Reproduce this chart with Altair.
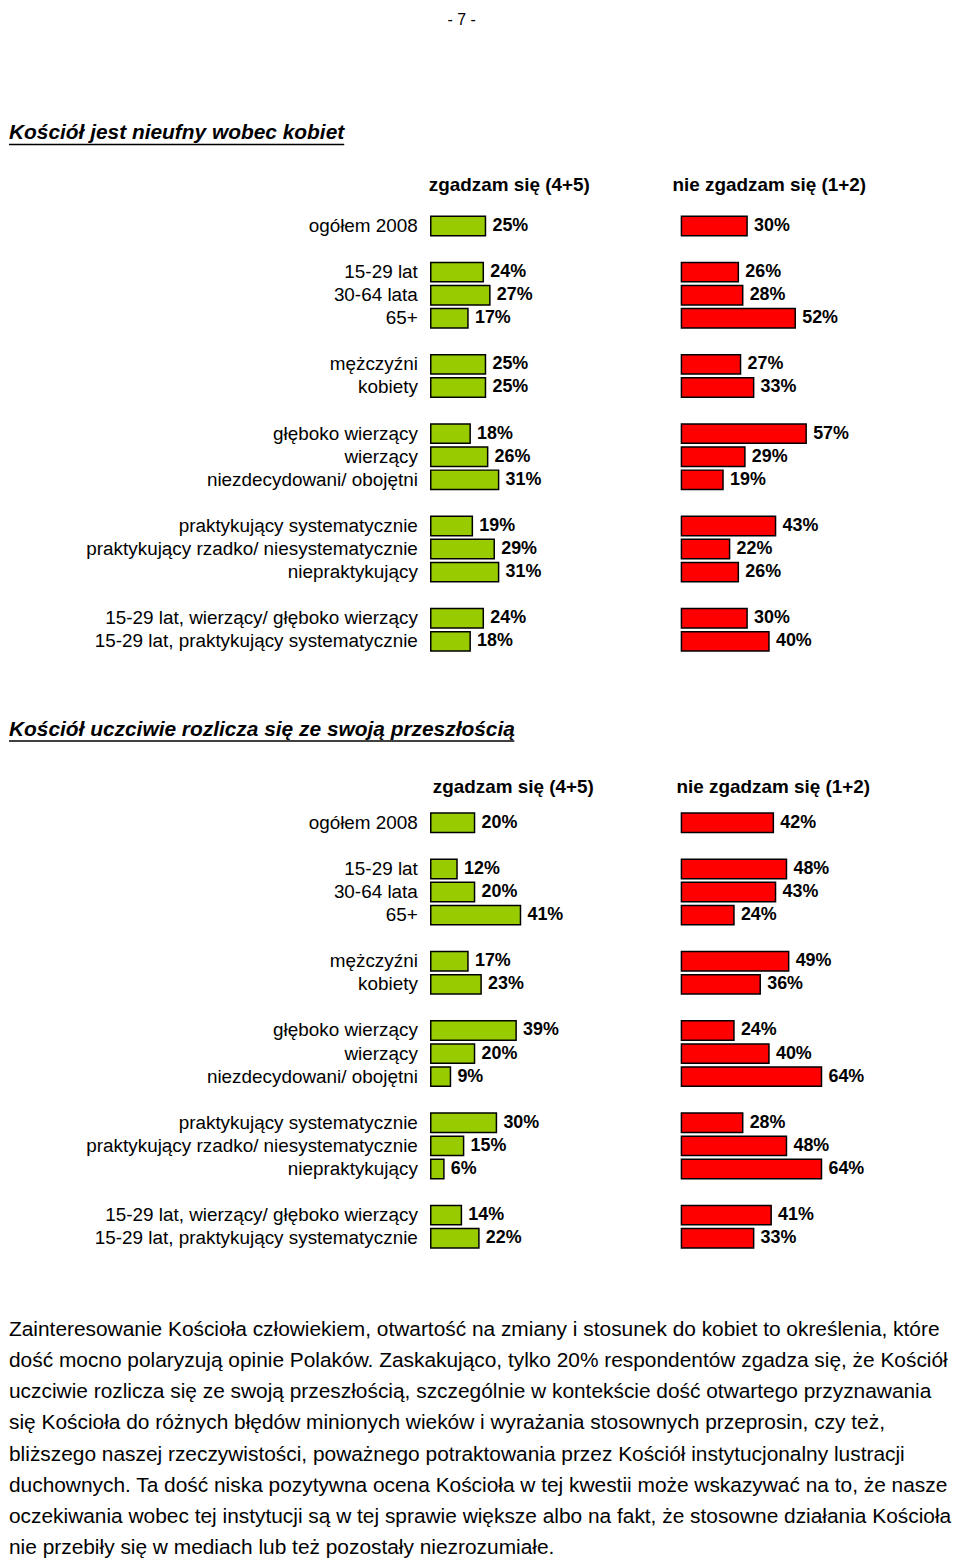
import altair as alt
import pandas as pd

FONT = "Liberation Sans"
GREEN = "#99CC00"
RED = "#FF0000"

page_number = "- 7 -"
title1 = "Kościół jest nieufny wobec kobiet"
title2 = "Kościół uczciwie rozlicza się ze swoją przeszłością"
header_agree = "zgadzam się (4+5)"
header_disagree = "nie zgadzam się (1+2)"

categories = [
    "ogółem 2008",
    "15-29 lat", "30-64 lata", "65+",
    "mężczyźni", "kobiety",
    "głęboko wierzący", "wierzący", "niezdecydowani/ obojętni",
    "praktykujący systematycznie", "praktykujący rzadko/ niesystematycznie", "niepraktykujący",
    "15-29 lat, wierzący/ głęboko wierzący", "15-29 lat, praktykujący systematycznie",
]
group_sizes = [1, 3, 2, 3, 3, 2]

agree_1 = [25, 24, 27, 17, 25, 25, 18, 26, 31, 19, 29, 31, 24, 18]
disagree_1 = [30, 26, 28, 52, 27, 33, 57, 29, 19, 43, 22, 26, 30, 40]

agree_2 = [20, 12, 20, 41, 17, 23, 39, 20, 9, 30, 15, 6, 14, 22]
disagree_2 = [42, 48, 43, 24, 49, 36, 24, 40, 64, 28, 48, 64, 41, 33]

paragraph_lines = [
    "Zainteresowanie Kościoła człowiekiem, otwartość na zmiany i stosunek do kobiet to określenia, które",
    "dość mocno polaryzują opinie Polaków. Zaskakująco, tylko 20% respondentów zgadza się, że Kościół",
    "uczciwie rozlicza się ze swoją przeszłością, szczególnie w kontekście dość otwartego przyznawania",
    "się Kościoła do różnych błędów minionych wieków i wyrażania stosownych przeprosin, czy też,",
    "bliższego naszej rzeczywistości, poważnego potraktowania przez Kościół instytucjonalny lustracji",
    "duchownych. Ta dość niska pozytywna ocena Kościoła w tej kwestii może wskazywać na to, że nasze",
    "oczekiwania wobec tej instytucji są w tej sprawie większe albo na fakt, że stosowne działania Kościoła",
    "nie przebiły się w mediach lub też pozostały niezrozumiałe.",
]

# slot order for the band scale: header row, a spacer, then groups separated by spacers
keys = ["__header", "__top"]
idx = 0
for g, n in enumerate(group_sizes):
    if g > 0:
        keys.append(f"__gap{g}")
    keys.extend(categories[idx:idx + n])
    idx += n

SEC_H = 487.2


def title_panel(text, height, ty, rule_len, extra=None):
    t = alt.Chart(pd.DataFrame({"t": [text]})).mark_text(
        align="left", baseline="middle", font=FONT, fontSize=21,
        fontWeight="bold", fontStyle="italic", color="black"
    ).encode(x=alt.value(0), y=alt.value(ty), text="t:N")
    r = alt.Chart(pd.DataFrame({"t": [text]})).mark_rule(color="black", strokeWidth=1.5).encode(
        x=alt.value(0), x2=alt.value(rule_len), y=alt.value(ty + 11)
    )
    layers = [t, r]
    if extra is not None:
        layers.append(extra)
    return alt.layer(*layers).properties(width=944, height=height)


def section(agree, disagree, hdr_dy, hdr_x1, hdr_x2):
    df = pd.DataFrame({"cat": categories, "agree": agree, "disagree": disagree})
    base = alt.Chart(df).transform_calculate(
        agree_lbl="datum.agree + '%'", disagree_lbl="datum.disagree + '%'"
    )
    y = alt.Y("cat:N", scale=alt.Scale(domain=keys, paddingInner=0.16, paddingOuter=0.08), axis=None)
    gscale = alt.Scale(domain=[0, 100], range=[424, 644])
    rscale = alt.Scale(domain=[0, 100], range=[676, 896])

    gbar = base.mark_bar(color=GREEN, stroke="black", strokeWidth=1.5).encode(
        x=alt.X("agree:Q", scale=gscale, axis=None), y=y)
    gtxt = base.mark_text(align="left", baseline="middle", dx=7, font=FONT, fontSize=18,
                          fontWeight="bold", color="black").encode(
        x=alt.X("agree:Q", scale=gscale, axis=None), y=y, text="agree_lbl:N")
    rbar = base.mark_bar(color=RED, stroke="black", strokeWidth=1.5).encode(
        x=alt.X("disagree:Q", scale=rscale, axis=None), y=y)
    rtxt = base.mark_text(align="left", baseline="middle", dx=7, font=FONT, fontSize=18,
                          fontWeight="bold", color="black").encode(
        x=alt.X("disagree:Q", scale=rscale, axis=None), y=y, text="disagree_lbl:N")
    labels = base.mark_text(align="right", baseline="middle", font=FONT, fontSize=19,
                            color="black").encode(x=alt.value(411), y=y, text="cat:N")
    hdf = pd.DataFrame({"cat": ["__header"], "a": [header_agree], "d": [header_disagree]})
    h1 = alt.Chart(hdf).mark_text(align="left", baseline="middle", dy=hdr_dy, font=FONT,
                                  fontSize=19, fontWeight="bold", color="black").encode(
        x=alt.value(hdr_x1), y=y, text="a:N")
    h2 = alt.Chart(hdf).mark_text(align="left", baseline="middle", dy=hdr_dy, font=FONT,
                                  fontSize=19, fontWeight="bold", color="black").encode(
        x=alt.value(hdr_x2), y=y, text="d:N")
    return alt.layer(gbar, gtxt, rbar, rtxt, labels, h1, h2).resolve_scale(
        x="independent").properties(width=944, height=SEC_H)


pn = alt.Chart(pd.DataFrame({"t": [page_number]})).mark_text(
    align="center", baseline="top", font=FONT, fontSize=16, color="black"
).encode(x=alt.value(455), y=alt.value(0), text="t:N")

panel_a = title_panel(title1, 157, 122, 337, extra=pn)
sec1 = section(agree_1, disagree_1, 5.4, 422, 667)
panel_b = title_panel(title2, 111.8, 76.8, 508)
sec2 = section(agree_2, disagree_2, 10.4, 426, 671)

pdf = pd.DataFrame({"n": list(range(len(paragraph_lines))), "line": paragraph_lines})
panel_c = alt.Chart(pdf).mark_text(
    align="left", baseline="middle", font=FONT, fontSize=21, color="black"
).encode(
    x=alt.value(0),
    y=alt.Y("n:O", scale=alt.Scale(type="point", range=[80, 299], padding=0), axis=None),
    text="line:N",
).properties(width=944, height=305.8)

chart = alt.vconcat(panel_a, sec1, panel_b, sec2, panel_c, spacing=0, bounds="flush").configure_view(
    stroke=None).properties(padding=0)

chart.save("out.html", embed_options={"renderer": "svg", "actions": False})
